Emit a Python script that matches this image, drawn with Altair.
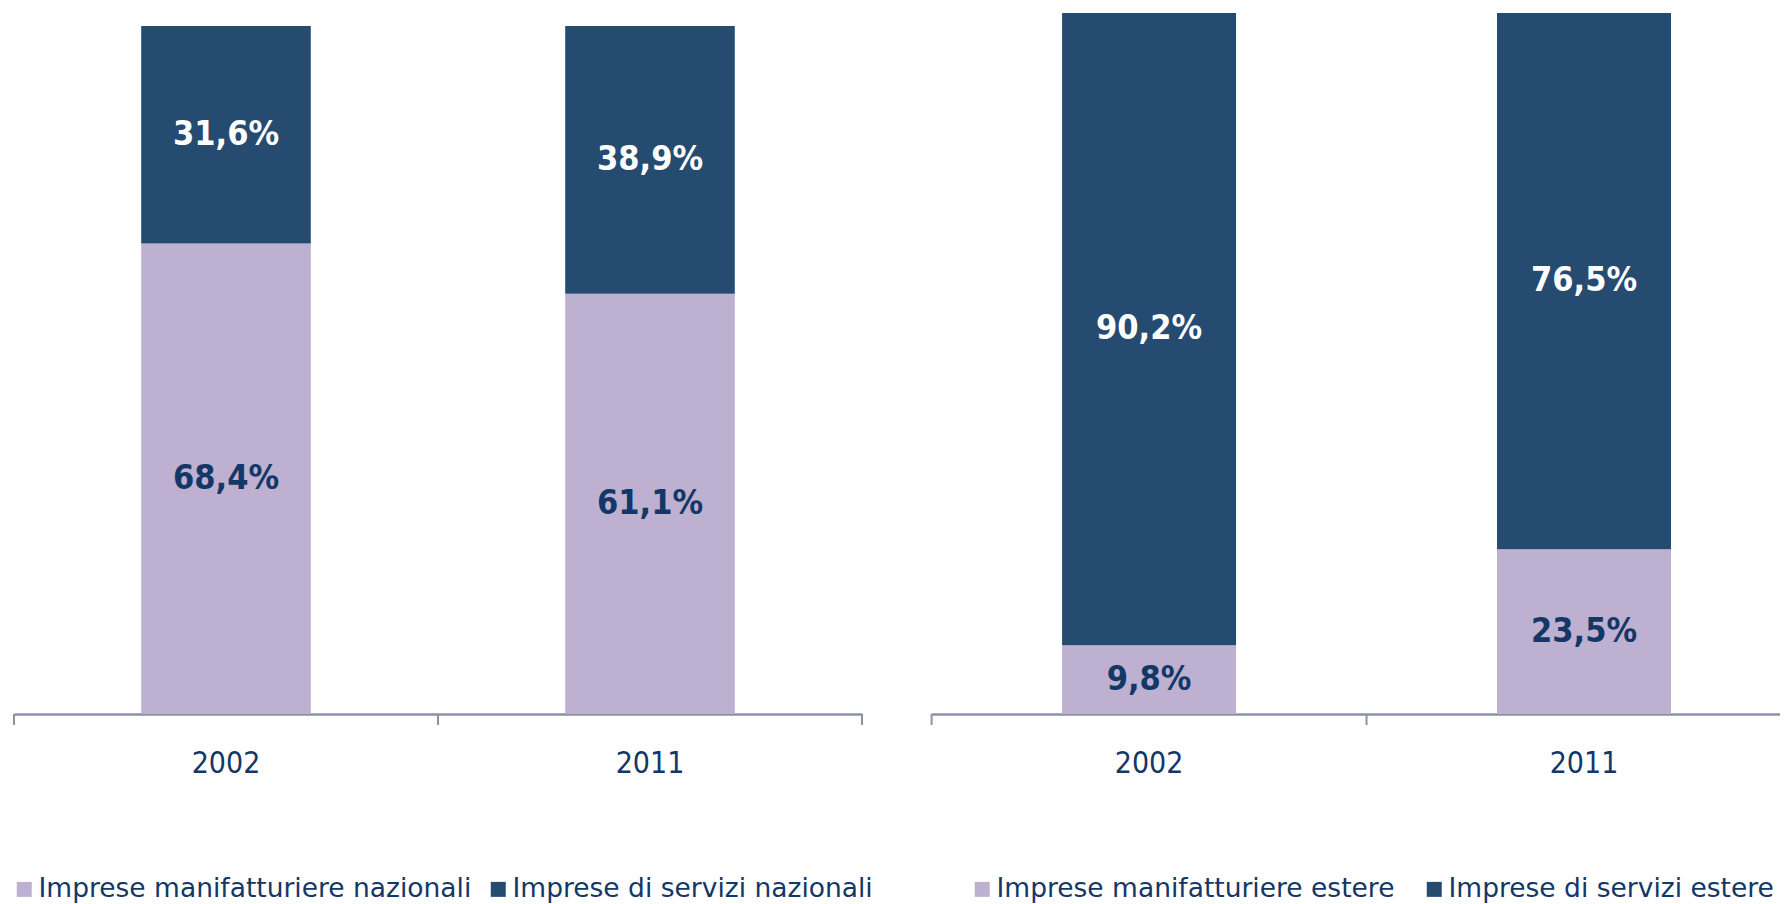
import altair as alt
import pandas as pd

years = ["2002", "2011"]
naz_labels = ["Imprese manifatturiere nazionali", "Imprese di servizi nazionali"]
naz_manif = [68.4, 61.1]
naz_serv = [31.6, 38.9]
est_labels = ["Imprese manifatturiere estere", "Imprese di servizi estere"]
est_manif = [9.8, 23.5]
est_serv = [90.2, 76.5]

LAV = "#BEB0D1"
DARK = "#254B71"
NAVY = "#133766"
GRAY = "#8A92A6"
FONT_C = "DejaVu Sans Condensed, Liberation Sans Narrow, DejaVu Sans, sans-serif"
FONT_L = "DejaVu Sans, Verdana, sans-serif"

PANEL_H = 701
P_INNER = 0.6


def panel(labels, manif, serv, width, ymax, legend_x, col_pad, p_outer, align, end_tick):
    rows = []
    for i, y in enumerate(years):
        rows.append({"year": y, "cat": labels[0], "ord": 0, "value": manif[i]})
        rows.append({"year": y, "cat": labels[1], "ord": 1, "value": serv[i]})
    df = pd.DataFrame(rows)

    step = width / (len(years) - P_INNER + 2 * p_outer)
    half_gap = step * P_INNER / 2

    xscale = alt.Scale(paddingInner=P_INNER, paddingOuter=p_outer, align=align)
    xenc = alt.X("year:N", sort=years, scale=xscale,
                 axis=alt.Axis(title=None, ticks=False, tickSize=0, labelAngle=0,
                               labelFont=FONT_C, labelFontSize=30, labelColor=NAVY,
                               labelPadding=34, domainColor=GRAY, domainWidth=2.5))
    yscale = alt.Scale(domain=[0, ymax], nice=False, zero=True)

    base = alt.Chart(df)
    bars = base.mark_bar().encode(
        x=xenc,
        y=alt.Y("value:Q", stack="zero", scale=yscale, axis=None),
        color=alt.Color("cat:N", sort=labels,
                        scale=alt.Scale(domain=labels, range=[LAV, DARK]),
                        legend=alt.Legend(title=None, orient="none", direction="horizontal",
                                          columns=2, legendX=legend_x, legendY=863,
                                          symbolType="square", symbolSize=225,
                                          symbolStrokeWidth=0, labelFont=FONT_L,
                                          labelFontSize=26.5, labelColor=NAVY, labelLimit=0,
                                          labelOffset=1, columnPadding=col_pad)),
        order=alt.Order("ord:Q"),
    )
    texts = base.transform_stack(
        stack="value", groupby=["year"], sort=[alt.SortField("ord")], as_=["y0", "y1"]
    ).transform_calculate(
        mid="(datum.y0 + datum.y1) / 2",
        lab="replace(format(datum.value, '.1f'), '.', ',') + '%'",
    ).mark_text(font=FONT_C, fontSize=34, fontWeight="bold", baseline="middle").encode(
        x=alt.X("year:N", sort=years),
        y=alt.Y("mid:Q", scale=yscale),
        text="lab:N",
        color=alt.condition("datum.ord == 1", alt.value("white"), alt.value(NAVY)),
    )
    # category-boundary ticks (Excel style): half a gap before each bar, and after the last one
    layers = [bars, texts]
    layers.append(base.transform_filter("datum.ord == 0").mark_rule(
        color=GRAY, strokeWidth=2, xOffset=-half_gap).encode(
        x=alt.X("year:N", sort=years, bandPosition=0),
        y=alt.value(PANEL_H),
        y2=alt.value(PANEL_H + 11),
    ))
    if end_tick:
        layers.append(base.transform_filter(
            f"datum.ord == 0 && datum.year == '{years[-1]}'").mark_rule(
            color=GRAY, strokeWidth=2, xOffset=half_gap).encode(
            x=alt.X("year:N", sort=years, bandPosition=1),
            y=alt.value(PANEL_H),
            y2=alt.value(PANEL_H + 11),
        ))
    return alt.layer(*layers).properties(width=width, height=PANEL_H)


left = panel(naz_labels, naz_manif, naz_serv, 848, 100 * PANEL_H / 688, -3, 13, 0.3, 0.5, True)
right = panel(est_labels, est_manif, est_serv, 849, 100.0, 38, 26, 0.276, 0.546, False)

chart = alt.hconcat(left, right, spacing=69, bounds="flush").resolve_scale(
    color="independent", x="independent", y="independent"
).properties(
    padding={"left": 3, "top": 5, "right": 0, "bottom": 0},
    background="white",
).configure_view(stroke=None, strokeWidth=0)

chart.save("out.html", embed_options={"renderer": "svg", "actions": False})
